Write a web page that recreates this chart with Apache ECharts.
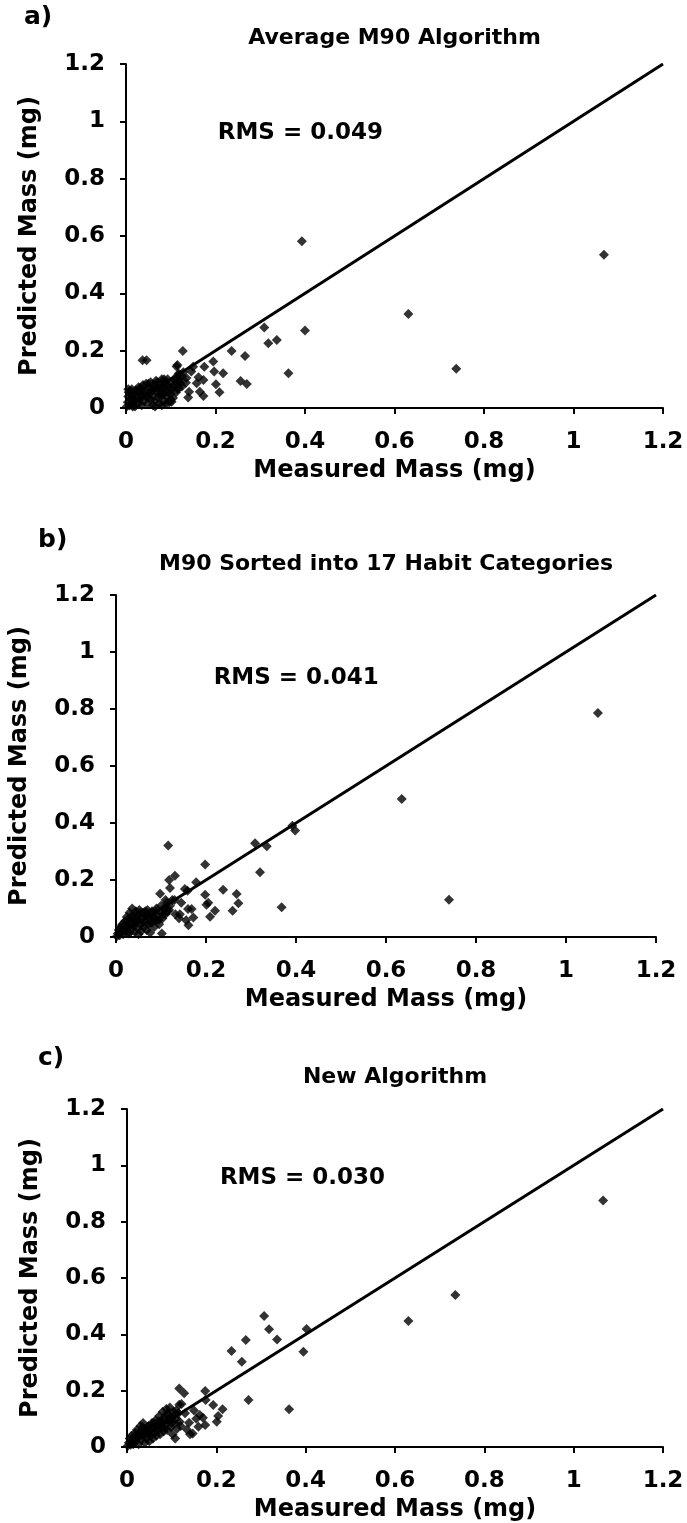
<!DOCTYPE html>
<html>
<head>
<meta charset="utf-8">
<script src="https://cdn.jsdelivr.net/npm/echarts@6/dist/echarts.min.js"></script>
<style>
  html, body { margin: 0; padding: 0; background: #fff; }
  #chart { width: 687px; height: 1523px; }
</style>
</head>
<body>
<div id="chart"></div>
<script>
// panel text
const panelLetters = ['a)', 'b)', 'c)'];
const panelTitles = ['Average M90 Algorithm', 'M90 Sorted into 17 Habit Categories', 'New Algorithm'];
const rmsLabels = ['RMS = 0.049', 'RMS = 0.041', 'RMS = 0.030'];
const rmsAt = [[0.205, 0.96], [0.217, 0.91], [0.208, 0.955]];
const xName = 'Measured Mass (mg)';
const yName = 'Predicted Mass (mg)';
const oneToOne = [[0, 0], [1.2, 1.2]];

// [measured, predicted] in mg
const pointsA = [
  [0.002,0.005],[0.004,0.02],[0.005,0.04],[0.006,0.055],[0.008,0.01],[0.01,0.03],[0.01,0.06],[0.012,0.045],
  [0.014,0.015],[0.015,0.035],[0.018,0.05],[0.02,0.005],[0.02,0.025],[0.022,0.062],[0.025,0.04],[0.027,0.015],
  [0.03,0.055],[0.03,0.03],[0.032,0.07],[0.035,0.01],[0.035,0.045],[0.038,0.08],[0.04,0.025],[0.042,0.06],
  [0.045,0.04],[0.045,0.085],[0.048,0.015],[0.05,0.07],[0.052,0.05],[0.055,0.03],[0.055,0.09],[0.058,0.065],
  [0.06,0.01],[0.06,0.045],[0.062,0.08],[0.065,0.025],[0.067,0.095],[0.07,0.055],[0.07,0.07],[0.072,0.035],
  [0.075,0.085],[0.075,0.015],[0.078,0.06],[0.08,0.1],[0.08,0.045],[0.083,0.075],[0.085,0.025],[0.087,0.09],
  [0.09,0.06],[0.09,0.04],[0.093,0.1],[0.095,0.075],[0.097,0.02],[0.1,0.09],[0.1,0.05],[0.102,0.065],
  [0.105,0.035],[0.107,0.1],[0.11,0.08],[0.112,0.055],[0.115,0.09],[0.118,0.07],[0.12,0.1],[0.122,0.085],
  [0.125,0.075],[0.013,0.065],[0.005,0.065],[0.028,0.072],
  [0.015,0.005],[0.025,0.055],[0.035,0.065],[0.04,0.05],[0.05,0.035],[0.05,0.085],[0.06,0.06],[0.065,0.075],
  [0.07,0.09],[0.075,0.045],[0.08,0.065],[0.085,0.05],[0.085,0.1],[0.09,0.08],[0.095,0.055],[0.1,0.03],
  [0.105,0.075],[0.11,0.095],[0.115,0.065],[0.12,0.09],[0.125,0.11],[0.118,0.12],[0.065,0.005],[0.08,0.01],
  [0.09,0.015],
  [0.037,0.167],[0.046,0.167],[0.115,0.150],[0.113,0.145],[0.127,0.199],[0.195,0.162],[0.175,0.144],
  [0.150,0.144],[0.146,0.127],[0.197,0.127],[0.217,0.121],[0.117,0.115],[0.162,0.107],[0.173,0.098],
  [0.158,0.086],[0.134,0.088],[0.201,0.083],[0.209,0.055],[0.141,0.057],[0.165,0.057],[0.173,0.042],
  [0.139,0.037],[0.102,0.022],[0.128,0.125],[0.135,0.105],[0.236,0.199],[0.266,0.181],[0.256,0.094],
  [0.270,0.084],[0.363,0.121],[0.309,0.281],[0.318,0.226],[0.337,0.237],[0.400,0.270],[0.393,0.582],
  [0.631,0.328],[0.738,0.137],[1.068,0.535]
];

const pointsB = [
  [0.002,0.003],[0.004,0.012],[0.006,0.025],[0.008,0.006],[0.01,0.035],[0.012,0.018],[0.014,0.045],[0.016,0.01],
  [0.018,0.03],[0.02,0.055],[0.022,0.02],[0.024,0.07],[0.026,0.04],[0.028,0.012],[0.03,0.085],[0.032,0.055],
  [0.034,0.028],[0.036,0.1],[0.038,0.07],[0.04,0.04],[0.042,0.018],[0.044,0.09],[0.046,0.055],[0.048,0.03],
  [0.05,0.075],[0.052,0.095],[0.054,0.045],[0.056,0.02],[0.058,0.065],[0.06,0.085],[0.062,0.035],[0.064,0.055],
  [0.066,0.075],[0.068,0.025],[0.07,0.095],[0.072,0.045],[0.074,0.065],[0.076,0.015],[0.078,0.085],[0.08,0.05],
  [0.082,0.07],[0.085,0.035],[0.088,0.09],[0.09,0.06],[0.093,0.075],[0.096,0.045],[0.1,0.085],[0.103,0.065],
  [0.106,0.1],[0.11,0.08],[0.113,0.12],[0.118,0.095],[0.12,0.11],[0.125,0.13],[0.03,0.015],[0.05,0.01],
  [0.03,0.045],[0.035,0.075],[0.04,0.06],[0.045,0.08],[0.05,0.06],[0.055,0.085],[0.06,0.05],[0.065,0.09],
  [0.07,0.075],[0.075,0.05],[0.08,0.09],[0.085,0.065],[0.09,0.1],[0.095,0.06],[0.1,0.11],[0.105,0.08],
  [0.11,0.1],[0.115,0.09],[0.02,0.04],[0.025,0.06],
  [0.116,0.321],[0.198,0.254],[0.131,0.215],[0.118,0.200],[0.178,0.192],[0.120,0.172],[0.153,0.168],
  [0.159,0.162],[0.238,0.166],[0.268,0.151],[0.198,0.148],[0.098,0.152],[0.272,0.118],[0.201,0.113],
  [0.205,0.120],[0.220,0.092],[0.259,0.092],[0.209,0.071],[0.168,0.098],[0.160,0.098],[0.142,0.080],
  [0.140,0.066],[0.172,0.068],[0.161,0.041],[0.156,0.059],[0.132,0.080],[0.102,0.012],[0.13,0.13],
  [0.145,0.12],[0.11,0.13],[0.368,0.104],[0.309,0.329],[0.335,0.318],[0.320,0.227],[0.398,0.374],
  [0.392,0.390],[0.635,0.484],[0.740,0.131],[1.071,0.786]
];

const pointsC = [
  [0.002,0.004],[0.004,0.015],[0.006,0.03],[0.008,0.008],[0.01,0.04],[0.012,0.02],[0.014,0.01],[0.016,0.035],
  [0.018,0.05],[0.02,0.02],[0.022,0.06],[0.024,0.035],[0.026,0.01],[0.028,0.045],[0.03,0.075],[0.032,0.025],
  [0.034,0.055],[0.036,0.085],[0.038,0.04],[0.04,0.015],[0.042,0.065],[0.044,0.03],[0.046,0.05],[0.048,0.075],
  [0.05,0.02],[0.052,0.06],[0.054,0.04],[0.056,0.085],[0.058,0.03],[0.06,0.07],[0.062,0.05],[0.064,0.095],
  [0.066,0.04],[0.068,0.08],[0.07,0.06],[0.072,0.11],[0.074,0.045],[0.076,0.09],[0.078,0.07],[0.08,0.125],
  [0.082,0.055],[0.084,0.1],[0.086,0.08],[0.088,0.135],[0.09,0.06],[0.092,0.115],[0.094,0.09],[0.096,0.14],
  [0.098,0.07],[0.1,0.105],[0.102,0.045],[0.104,0.125],[0.106,0.085],[0.108,0.03],[0.11,0.1],[0.112,0.065],
  [0.115,0.12],[0.118,0.09],[0.12,0.075],
  [0.03,0.05],[0.035,0.07],[0.04,0.055],[0.045,0.07],[0.05,0.045],[0.055,0.07],[0.06,0.085],[0.065,0.06],
  [0.07,0.09],[0.075,0.075],[0.08,0.1],[0.085,0.065],[0.09,0.12],[0.095,0.1],[0.1,0.085],[0.105,0.11],
  [0.11,0.13],[0.02,0.035],[0.025,0.05],
  [0.117,0.208],[0.128,0.191],[0.175,0.199],[0.193,0.149],[0.176,0.167],[0.214,0.134],[0.204,0.110],
  [0.201,0.090],[0.163,0.114],[0.170,0.104],[0.175,0.078],[0.160,0.072],[0.141,0.045],[0.147,0.048],
  [0.122,0.153],[0.117,0.150],[0.139,0.086],[0.134,0.062],[0.15,0.13],[0.13,0.12],[0.155,0.1],
  [0.234,0.341],[0.257,0.303],[0.266,0.380],[0.272,0.167],[0.307,0.465],[0.318,0.418],[0.336,0.382],
  [0.395,0.338],[0.402,0.419],[0.363,0.134],[0.630,0.447],[0.735,0.540],[1.066,0.875]
];

const allPoints = [pointsA, pointsB, pointsC];

const FONT = '"DejaVu Sans", sans-serif';
const grids = [
  { left: 126, top: 64, width: 537, height: 344 },
  { left: 116, top: 595, width: 540, height: 342 },
  { left: 127, top: 1109, width: 536, height: 338 }
];
const letterPos = [[24, 17], [38, 540], [38, 1058]];
const titleY = [38, 564, 1077];

const axisCommon = {
  min: 0,
  max: 1.2,
  interval: 0.2,
  splitLine: { show: false },
  axisLine: { show: true, onZero: false, lineStyle: { color: '#000', width: 2 } },
  axisTick: { show: true, inside: false, length: 6, lineStyle: { color: '#000', width: 2 } },
  axisLabel: { color: '#000', fontFamily: FONT, fontWeight: 'bold', fontSize: 23 }
};

const chart = echarts.init(document.getElementById('chart'), null, { renderer: 'canvas' });

const xAxes = grids.map((g, i) => ({
  ...axisCommon,
  type: 'value',
  gridIndex: i,
  axisLabel: { ...axisCommon.axisLabel, margin: 23 },
  name: xName,
  nameLocation: 'middle',
  nameGap: 51,
  nameTextStyle: { color: '#000', fontFamily: FONT, fontWeight: 'bold', fontSize: 24 }
}));

const yAxes = grids.map((g, i) => ({
  ...axisCommon,
  type: 'value',
  gridIndex: i,
  axisLabel: { ...axisCommon.axisLabel, margin: 21 },
  name: yName,
  nameLocation: 'middle',
  nameGap: 84,
  nameTextStyle: { color: '#000', fontFamily: FONT, fontWeight: 'bold', fontSize: 24 }
}));

const series = [];
allPoints.forEach((pts, i) => {
  series.push({
    type: 'line',
    xAxisIndex: i,
    yAxisIndex: i,
    data: oneToOne,
    showSymbol: false,
    silent: true,
    lineStyle: { color: '#000', width: 3 },
    z: 3
  });
  series.push({
    type: 'scatter',
    xAxisIndex: i,
    yAxisIndex: i,
    data: pts,
    symbol: 'diamond',
    symbolSize: 10,
    itemStyle: { color: '#000' },
    z: 4
  });
});

const textItem = (txt, x, y, size, align) => ({
  type: 'text',
  x: x,
  y: y,
  style: {
    text: txt,
    fill: '#000',
    font: 'bold ' + size + 'px ' + FONT,
    textAlign: align,
    textVerticalAlign: 'middle'
  }
});

chart.setOption({
  animation: false,
  grid: grids,
  xAxis: xAxes,
  yAxis: yAxes,
  series: series
});

const texts = [];
grids.forEach((g, i) => {
  texts.push(textItem(panelLetters[i], letterPos[i][0], letterPos[i][1], 25, 'left'));
  texts.push(textItem(panelTitles[i], g.left + g.width / 2, titleY[i], 22, 'center'));
  const p = chart.convertToPixel({ xAxisIndex: i, yAxisIndex: i }, rmsAt[i]);
  texts.push(textItem(rmsLabels[i], p[0], p[1], 23, 'left'));
});

chart.setOption({ graphic: texts });
</script>
</body>
</html>
